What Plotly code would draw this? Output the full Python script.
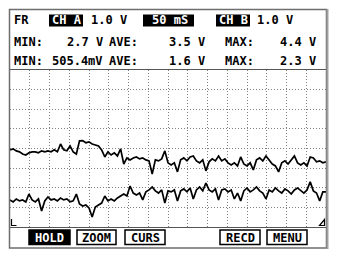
import plotly.graph_objects as go

# ---- data (time in ms, 50 ms/div; voltage in V, 1.0 V/div) ----
time_ms = list(range(0, 801, 8))

ch_a = [3.93, 3.98, 3.88, 3.83, 3.72, 3.67, 3.78, 3.83, 3.83, 3.78,
        3.88, 3.83, 3.88, 3.83, 3.93, 3.83, 4.23, 3.93, 3.88, 4.13,
        3.83, 3.72, 4.39, 4.40, 4.29, 4.34, 4.23, 4.18, 4.13, 3.93,
        3.57, 3.83, 3.67, 3.78, 3.62, 3.98, 3.21, 3.52, 3.42, 3.52,
        3.57, 3.47, 3.52, 3.42, 3.37, 2.70, 3.42, 3.37, 3.47, 3.88,
        3.27, 3.16, 3.27, 2.81, 3.42, 3.52, 3.37, 3.57, 3.62, 3.37,
        3.27, 3.42, 2.86, 3.32, 3.47, 3.37, 3.62, 3.37, 3.47, 3.27,
        3.16, 3.27, 3.11, 3.57, 3.21, 3.11, 3.27, 2.91, 3.42, 3.52,
        3.37, 3.62, 3.42, 3.21, 3.11, 2.81, 3.27, 3.37, 3.21, 3.42,
        3.62, 3.27, 3.16, 3.27, 3.11, 3.57, 3.52, 3.32, 3.37, 3.27,
        3.32]

ch_b = [1.38, 1.28, 1.43, 1.33, 1.38, 1.28, 1.68, 1.38, 1.28, 1.43,
        0.82, 1.33, 1.53, 1.38, 1.43, 1.33, 1.48, 1.38, 1.43, 1.28,
        1.33, 1.68, 1.17, 1.07, 1.12, 0.97, 0.51, 1.02, 1.12, 1.22,
        1.58, 1.33, 1.43, 1.33, 1.48, 1.58, 1.68, 1.58, 2.09, 1.73,
        1.63, 1.73, 1.38, 1.79, 1.89, 2.04, 1.84, 1.73, 1.89, 1.22,
        1.84, 1.79, 1.89, 1.33, 1.84, 1.94, 1.79, 1.99, 1.43, 1.89,
        2.04, 1.84, 2.24, 1.89, 1.79, 1.94, 1.38, 1.89, 1.94, 1.79,
        1.89, 1.43, 1.73, 1.33, 1.84, 1.99, 1.79, 1.89, 2.04, 1.84,
        1.73, 1.43, 1.89, 1.79, 1.99, 1.84, 1.73, 1.94, 1.84, 1.68,
        1.89, 1.99, 1.84, 1.73, 1.89, 2.30, 1.84, 1.73, 1.33, 1.79,
        1.79]

# header texts
header_row1 = [("FR", 12, False), ("CH A", 50, True), ("1.0 V", 89, False),
               ("50 mS", 150, True), ("CH B", 217, True), ("1.0 V", 255, False)]
header_row2 = [("MIN:", 12), ("2.7 V", 65), ("AVE:", 107), ("3.5 V", 167),
               ("MAX:", 223), ("4.4 V", 278)]
header_row3 = [("MIN:", 12), ("505.4mV", 50), ("AVE:", 107), ("1.6 V", 167),
               ("MAX:", 223), ("2.3 V", 278)]
buttons = [("HOLD", 29, 70, True), ("ZOOM", 77, 116, False), ("CURS", 125, 165, False),
           ("RECD", 220, 260, False), ("MENU", 267, 307, False)]

W, H = 337, 258
L, R, T, B = 10, 11, 70, 31
PW, PH = W - L - R, H - T - B


def px(x):
    return (x - L) / PW


def py(y):
    return (H - B - y) / PH


FONT = "DejaVu Sans Mono"

fig = go.Figure()
for series in (ch_a, ch_b):
    fig.add_trace(go.Scatter(x=time_ms, y=series, mode="lines",
                             line=dict(color="black", width=1.7),
                             hoverinfo="skip", showlegend=False))

shapes = []
annotations = []

# outer frame
shapes.append(dict(type="rect", xref="paper", yref="paper", x0=px(9.5), x1=px(326.5), y0=py(9.5), y1=py(248),
                   line=dict(color="#6e6e6e", width=1.5), layer="above"))
shapes.append(dict(type="line", xref="paper", yref="paper", x0=px(327.5), x1=px(327.5), y0=py(9), y1=py(249),
                   line=dict(color="#a0a0a0", width=2), layer="above"))


def add_text(text, x, y, inverted=False, size=12):
    annotations.append(dict(text="<b>%s</b>" % text, xref="paper", yref="paper", x=px(x), y=py(y),
                            xanchor="left", yanchor="middle", showarrow=False,
                            font=dict(family=FONT, size=size, color="white" if inverted else "black")))


# inverted header boxes
for x0, x1 in [(49, 83), (143, 194), (216, 250)]:
    shapes.append(dict(type="rect", xref="paper", yref="paper", x0=px(x0), x1=px(x1), y0=py(14.5), y1=py(26.5),
                       fillcolor="black", line=dict(width=0), layer="above"))

for t, x, inv in header_row1:
    add_text(t, x, 20.5, inv)
for t, x in header_row2:
    add_text(t, x, 42)
for t, x in header_row3:
    add_text(t, x, 61)

# buttons
for t, x0, x1, inv in buttons:
    shapes.append(dict(type="rect", xref="paper", yref="paper", x0=px(x0), x1=px(x1), y0=py(230), y1=py(244.5),
                       fillcolor="black" if inv else "white", line=dict(color="black", width=1.5), layer="above"))
    annotations.append(dict(text="<b>%s</b>" % t, xref="paper", yref="paper", x=px((x0 + x1) / 2), y=py(237.5),
                            xanchor="center", yanchor="middle", showarrow=False,
                            font=dict(family=FONT, size=12, color="white" if inv else "black")))

# ground markers
shapes.append(dict(type="path", xref="paper", yref="paper",
                   path="M %f,%f L %f,%f L %f,%f" % (px(11.5), py(219), px(11.5), py(225.5), px(16.5), py(225.5)),
                   line=dict(color="black", width=1.2), layer="above"))
shapes.append(dict(type="path", xref="paper", yref="paper",
                   path="M %f,%f L %f,%f L %f,%f Z" % (px(324.5), py(219.5), px(324.5), py(225.5), px(319.5), py(225.5)),
                   line=dict(color="black", width=1.2), layer="above"))

fig.update_layout(
    width=W, height=H, margin=dict(l=L, r=R, t=T, b=B),
    paper_bgcolor="white", plot_bgcolor="white",
    shapes=shapes, annotations=annotations,
    xaxis=dict(range=[0, 800], tick0=0, dtick=50, showgrid=True, gridcolor="#808080", griddash="1px,2px",
               gridwidth=1, showticklabels=False, ticks="", zeroline=False,
               showline=True, mirror=True, linecolor="#555555", linewidth=1.2, fixedrange=True),
    yaxis=dict(range=[0, 8], tick0=0, dtick=1, showgrid=True, gridcolor="#808080", griddash="1px,2px",
               gridwidth=1, showticklabels=False, ticks="", zeroline=False,
               showline=True, mirror=True, linecolor="#555555", linewidth=1.2, fixedrange=True),
)

fig.write_html("out.html", config={"displayModeBar": False, "staticPlot": True})
